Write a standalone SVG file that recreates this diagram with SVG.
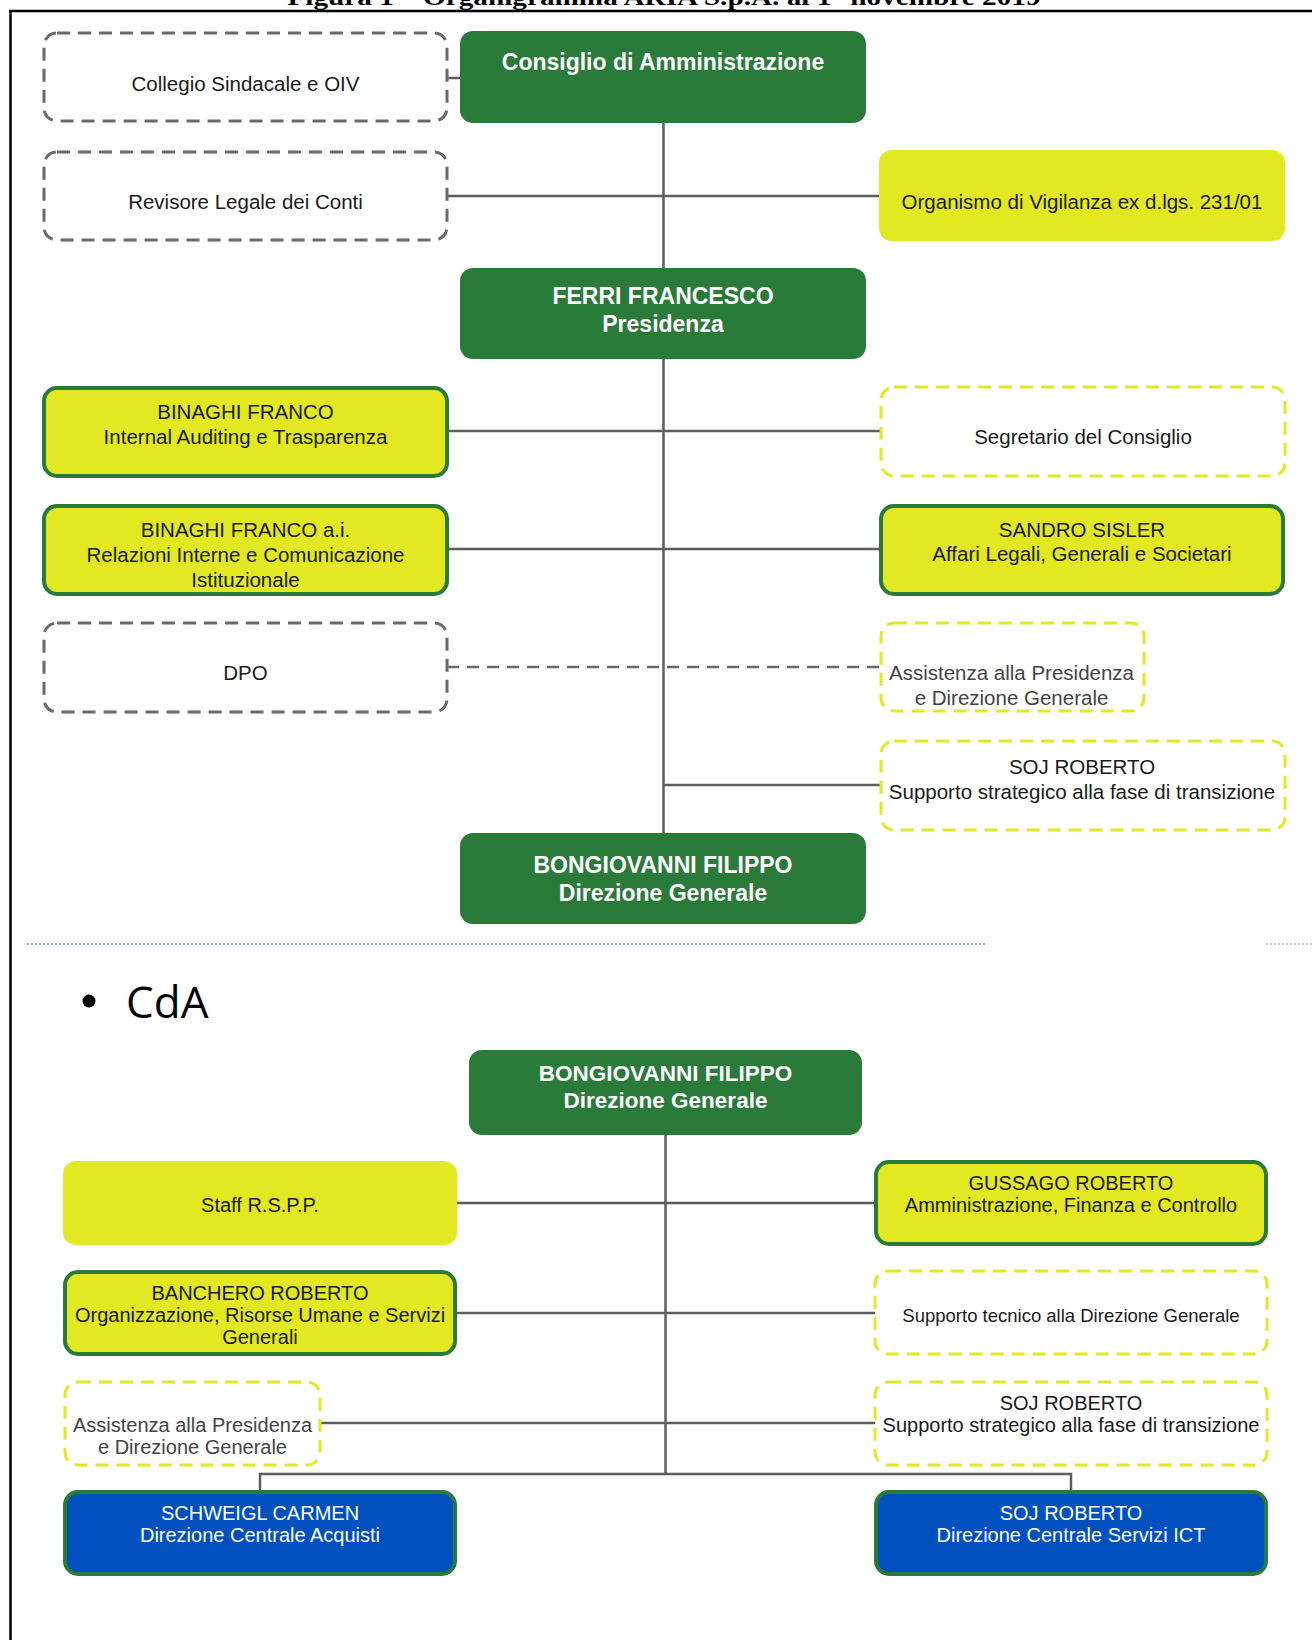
<svg xmlns="http://www.w3.org/2000/svg" width="1312" height="1640" viewBox="0 0 1312 1640">
  <style>
    .green { fill: #2a7a3a; }
    .yellow { fill: #e2e822; }
    .yellow-b { fill: #e2e822; stroke: #2a7a3a; stroke-width: 4; }
    .blue-b { fill: #0050bf; stroke: #2a7a3a; stroke-width: 4; }
    .dash-gray { fill: #ffffff; stroke: #6a6a6a; stroke-width: 3; stroke-dasharray: 13 8; }
    .dash-yellow { fill: #ffffff; stroke: #e2e822; stroke-width: 3; stroke-dasharray: 13 8; }
    text { font-family: "Liberation Sans", Arial, sans-serif; text-anchor: middle; }
    .t { font-size: 20.5px; fill: #1a1a1a; }
    .ts { font-size: 20px; fill: #1a1a1a; }
    .tg { font-size: 20.5px; fill: #444444; }
    .tgs { font-size: 20px; fill: #444444; }
    .tb { font-size: 23px; font-weight: bold; fill: #ffffff; }
    .tbs { font-size: 22.5px; font-weight: bold; fill: #ffffff; }
    .tw { font-size: 20px; fill: #ffffff; }
    .conn { stroke: #5e5e5e; stroke-width: 2.5; fill: none; }
    .conn-dash { stroke: #6a6a6a; stroke-width: 2.5; fill: none; stroke-dasharray: 12 8; }
  </style>

  <!-- page frame and clipped caption -->
  <g id="page">
    <text x="664" y="5" font-family="Liberation Serif, 'Times New Roman', serif" font-weight="bold" font-size="24" fill="#000" textLength="753" lengthAdjust="spacingAndGlyphs" style="font-family:'Liberation Serif','Times New Roman',serif">Figura 1 – Organigramma ARIA S.p.A. al 1° novembre 2019</text>
    <line x1="9" y1="11" x2="1312" y2="11" stroke="#000" stroke-width="2.5"/>
    <line x1="10.5" y1="10" x2="10.5" y2="1640" stroke="#000" stroke-width="2.5"/>
    <line x1="27" y1="944" x2="986" y2="944" stroke="#5aa874" stroke-width="1.5" stroke-dasharray="2 2"/>
    <line x1="1266" y1="944" x2="1312" y2="944" stroke="#5aa874" stroke-width="1.5" stroke-dasharray="2 2" opacity="0.6"/>
    <circle cx="89" cy="1001" r="6.5" fill="#000"/>
    <text x="126" y="1018" style="font-family:'Open Sans','Noto Sans',sans-serif;text-anchor:start" font-size="44" fill="#000">CdA</text>
  </g>

  <!-- connectors -->
  <g id="connectors">
    <!-- upper chart -->
    <line class="conn" x1="663.5" y1="123" x2="663.5" y2="834"/>
    <line class="conn" x1="447" y1="78" x2="460" y2="78"/>
    <line class="conn" x1="447" y1="196" x2="879" y2="196"/>
    <line class="conn" x1="448" y1="431" x2="881" y2="431"/>
    <line class="conn" x1="448" y1="549" x2="879" y2="549"/>
    <line class="conn-dash" x1="447" y1="667" x2="881" y2="667"/>
    <line class="conn" x1="663.5" y1="785" x2="881" y2="785"/>
    <!-- lower chart -->
    <line class="conn" x1="665.5" y1="1135" x2="665.5" y2="1474"/>
    <line class="conn" x1="457" y1="1203" x2="874" y2="1203"/>
    <line class="conn" x1="457" y1="1313" x2="875" y2="1313"/>
    <line class="conn" x1="320" y1="1423" x2="875" y2="1423"/>
    <polyline class="conn" points="260,1490 260,1474 1071,1474 1071,1490"/>
  </g>

  <!-- upper chart nodes -->
  <g id="consiglio">
    <rect class="green" x="460" y="31" width="406" height="92" rx="13"/>
    <text class="tb" x="663" y="69.5">Consiglio di Amministrazione</text>
  </g>
  <g id="collegio">
    <rect class="dash-gray" x="44" y="33" width="403" height="88" rx="13"/>
    <text class="t" x="245.5" y="91">Collegio Sindacale e OIV</text>
  </g>
  <g id="revisore">
    <rect class="dash-gray" x="44" y="152" width="403" height="88" rx="13"/>
    <text class="t" x="245.5" y="209">Revisore Legale dei Conti</text>
  </g>
  <g id="organismo">
    <rect class="yellow" x="879" y="150" width="406" height="91" rx="13"/>
    <text class="t" x="1082" y="209">Organismo di Vigilanza ex d.lgs. 231/01</text>
  </g>
  <g id="presidenza">
    <rect class="green" x="460" y="268" width="406" height="91" rx="13"/>
    <text class="tb" x="663" y="304">FERRI FRANCESCO</text>
    <text class="tb" x="663" y="332">Presidenza</text>
  </g>
  <g id="internal-auditing">
    <rect class="yellow-b" x="44" y="388" width="403" height="88" rx="13"/>
    <text class="t" x="245.5" y="419">BINAGHI FRANCO</text>
    <text class="t" x="245.5" y="444">Internal Auditing e Trasparenza</text>
  </g>
  <g id="segretario">
    <rect class="dash-yellow" x="881" y="387" width="404" height="89" rx="13"/>
    <text class="t" x="1083" y="443.5">Segretario del Consiglio</text>
  </g>
  <g id="relazioni-interne">
    <rect class="yellow-b" x="44" y="506" width="403" height="88" rx="13"/>
    <text class="t" x="245.5" y="537">BINAGHI FRANCO a.i.</text>
    <text class="t" x="245.5" y="562">Relazioni Interne e Comunicazione</text>
    <text class="t" x="245.5" y="587">Istituzionale</text>
  </g>
  <g id="affari-legali">
    <rect class="yellow-b" x="881" y="506" width="402" height="88" rx="13"/>
    <text class="t" x="1082" y="536.5">SANDRO SISLER</text>
    <text class="t" x="1082" y="561">Affari Legali, Generali e Societari</text>
  </g>
  <g id="dpo">
    <rect class="dash-gray" x="44" y="623" width="403" height="89" rx="13"/>
    <text class="t" x="245.5" y="680">DPO</text>
  </g>
  <g id="assistenza-1">
    <rect class="dash-yellow" x="881" y="623" width="263" height="88" rx="13"/>
    <text class="tg" x="1011.5" y="680">Assistenza alla Presidenza</text>
    <text class="tg" x="1011.5" y="705">e Direzione Generale</text>
  </g>
  <g id="supporto-strategico-1">
    <rect class="dash-yellow" x="881" y="741" width="404" height="89" rx="13"/>
    <text class="t" x="1082" y="774">SOJ ROBERTO</text>
    <text class="t" x="1082" y="799">Supporto strategico alla fase di transizione</text>
  </g>
  <g id="direzione-generale-1">
    <rect class="green" x="460" y="833" width="406" height="91" rx="13"/>
    <text class="tb" x="663" y="873">BONGIOVANNI FILIPPO</text>
    <text class="tb" x="663" y="901">Direzione Generale</text>
  </g>

  <!-- lower chart nodes -->
  <g id="direzione-generale-2">
    <rect class="green" x="469" y="1050" width="393" height="85" rx="13"/>
    <text class="tbs" x="665.5" y="1081">BONGIOVANNI FILIPPO</text>
    <text class="tbs" x="665.5" y="1108">Direzione Generale</text>
  </g>
  <g id="rspp">
    <rect class="yellow" x="63" y="1161" width="394" height="84" rx="13"/>
    <text class="ts" x="260" y="1212">Staff R.S.P.P.</text>
  </g>
  <g id="amministrazione">
    <rect class="yellow-b" x="876" y="1162" width="390" height="82" rx="13"/>
    <text class="ts" x="1071" y="1190">GUSSAGO ROBERTO</text>
    <text class="ts" x="1071" y="1212">Amministrazione, Finanza e Controllo</text>
  </g>
  <g id="organizzazione">
    <rect class="yellow-b" x="65" y="1272" width="390" height="82" rx="13"/>
    <text class="ts" x="260" y="1300">BANCHERO ROBERTO</text>
    <text class="ts" x="260" y="1322">Organizzazione, Risorse Umane e Servizi</text>
    <text class="ts" x="260" y="1344">Generali</text>
  </g>
  <g id="supporto-tecnico">
    <rect class="dash-yellow" x="875" y="1271" width="392" height="83" rx="13"/>
    <text class="ts" x="1071" y="1321.5" font-size="18.5" style="font-size:18.5px">Supporto tecnico alla Direzione Generale</text>
  </g>
  <g id="assistenza-2">
    <rect class="dash-yellow" x="65" y="1382" width="255" height="83" rx="13"/>
    <text class="tgs" x="192.5" y="1432">Assistenza alla Presidenza</text>
    <text class="tgs" x="192.5" y="1454">e Direzione Generale</text>
  </g>
  <g id="supporto-strategico-2">
    <rect class="dash-yellow" x="875" y="1382" width="392" height="83" rx="13"/>
    <text class="ts" x="1071" y="1410">SOJ ROBERTO</text>
    <text class="ts" x="1071" y="1432">Supporto strategico alla fase di transizione</text>
  </g>
  <g id="acquisti">
    <rect class="blue-b" x="65" y="1492" width="390" height="82" rx="13"/>
    <text class="tw" x="260" y="1520">SCHWEIGL CARMEN</text>
    <text class="tw" x="260" y="1542">Direzione Centrale Acquisti</text>
  </g>
  <g id="servizi-ict">
    <rect class="blue-b" x="876" y="1492" width="390" height="82" rx="13"/>
    <text class="tw" x="1071" y="1520">SOJ ROBERTO</text>
    <text class="tw" x="1071" y="1542">Direzione Centrale Servizi ICT</text>
  </g>
</svg>
